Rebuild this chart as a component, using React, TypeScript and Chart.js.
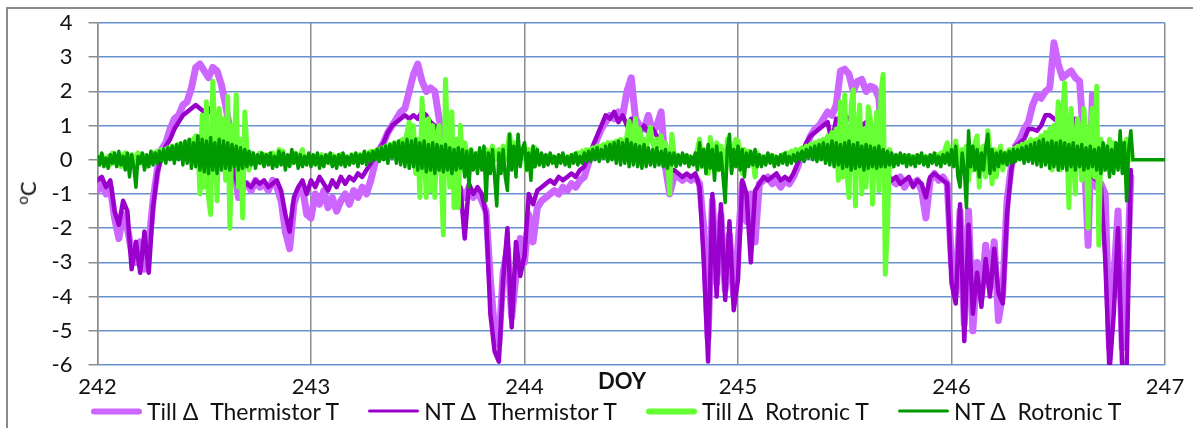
import React, { useEffect, useRef } from "react";
import { Chart, registerables } from "chart.js";

Chart.register(...registerables);

// Sampling grids of the logged differences (day of year)
const doyStart = 242;
const thermistorStep = 0.02; // both thermistor series
const rotronicStep = 0.01; // both Rotronic series

// Axis ticks
const doyTicks = [242, 243, 244, 245, 246, 247];
const tempTicks = [-6, -5, -4, -3, -2, -1, 0, 1, 2, 3, 4];

// Series styling
const seriesLabels = ["Till Δ  Thermistor T", "NT Δ  Thermistor T", "Till Δ  Rotronic T", "NT Δ  Rotronic T"];
const seriesColors = ["#CC66FF", "#9900CC", "#66FF33", "#009900"];
const lineWidths = [7, 4.5, 5, 3.5];
const legendWidths = [6, 3.5, 6, 3.5];

// Till Δ Thermistor T (°C), one row per 0.2 day
const tillThermistor = [
  // 242
  -0.9, -0.7, -1.0, -0.8, -1.7, -2.3, -1.6, -2.0, -2.7, -3.0,
  -2.4, -3.2, -2.5, -1.2, -0.3, 0.3, 0.5, 0.9, 1.2, 1.3,
  1.6, 1.7, 2.1, 2.7, 2.8, 2.6, 2.4, 2.7, 2.6, 2.2,
  1.6, 0.9, -0.2, -1.1, -0.8, -0.7, -0.9, -0.6, -0.8, -0.7,
  -0.9, -0.6, -0.8, -1.2, -2.1, -2.6, -1.3, -0.9, -0.8, -1.6,
  // 243
  -1.7, -1.0, -1.3, -0.9, -1.4, -1.1, -1.5, -1.2, -1.0, -1.3,
  -0.9, -1.1, -0.8, -1.0, -0.6, -0.1, 0.3, 0.5, 0.8, 1.0,
  1.2, 1.4, 1.5, 2.0, 2.5, 2.8, 2.3, 2.0, 2.1, 2.0,
  1.2, 0.6, 0.0, -0.4, -0.7, -0.9, -1.1, -0.8, -1.1, -0.9,
  -1.2, -1.5, -3.5, -5.0, -5.4, -3.3, -2.6, -4.6, -3.4, -2.3,
  // 244
  -3.0, -1.6, -2.4, -1.4, -1.2, -1.1, -1.0, -0.9, -1.0, -0.8,
  -0.9, -0.7, -0.8, -0.6, -0.5, -0.1, 0.3, 0.6, 0.9, 1.1,
  1.3, 1.2, 1.4, 1.3, 2.0, 2.4, 1.2, 1.0, 0.9, 1.3,
  0.8, 1.0, 1.4, -0.2, -1.0, -0.5, -0.5, -0.6, -0.5, -0.6,
  -0.5, -0.7, -2.0, -5.2, -1.2, -3.6, -1.6, -3.8, -2.2, -4.0,
  // 245
  -2.5, -0.7, -1.8, -1.0, -2.4, -0.7, -0.6, -0.5, -0.7, -0.6,
  -0.8, -0.6, -0.7, -0.5, -0.2, 0.2, 0.4, 0.7, 0.9, 1.0,
  1.2, 1.4, 1.3, 1.6, 2.6, 2.65, 2.5, 2.0, 2.3, 2.35,
  2.0, 2.15, 2.1, 1.8, 0.0, -0.5, -0.6, -0.7, -0.5, -0.8,
  -0.6, -0.7, -0.6, -0.9, -1.7, -0.6, -0.4, -0.6, -0.5, -0.7,
  // 246
  -3.0, -3.9, -1.5, -4.8, -1.5, -5.0, -3.0, -4.0, -2.5, -3.7,
  -2.4, -4.7, -3.9, -1.2, -0.2, 0.4, 0.6, 0.9, 1.1, 1.6,
  1.9, 1.8, 2.0, 2.1, 3.42, 2.8, 2.4, 2.5, 2.6, 2.4,
  2.3, 0.5, -2.5, 1.9, -0.8, -0.7, -1.0, -5.5, -3.5, -1.5,
  -5.5, -3.7, -0.5,
];

// NT Δ Thermistor T (°C), one row per 0.2 day
const ntThermistor = [
  // 242
  -0.6, -0.5, -0.8, -0.6, -1.5, -1.9, -1.2, -1.5, -3.2, -2.4,
  -3.3, -2.1, -3.3, -1.4, -0.4, 0.1, 0.4, 0.6, 0.9, 1.1,
  1.3, 1.4, 1.5, 1.6, 1.5, 1.4, 1.5, 1.3, 1.2, 1.0,
  0.8, 0.3, -0.4, -0.8, -0.6, -0.7, -0.8, -0.6, -0.7, -0.6,
  -0.8, -0.7, -0.6, -0.9, -1.6, -2.1, -1.1, -0.8, -0.6, -1.0,
  // 243
  -0.6, -0.8, -0.5, -0.7, -0.9, -0.6, -0.8, -0.5, -0.7, -0.5,
  -0.6, -0.4, -0.5, -0.3, -0.1, 0.1, 0.3, 0.5, 0.8, 1.0,
  1.1, 1.2, 1.3, 1.2, 1.3, 1.2, 1.4, 1.3, 1.1, 1.0,
  0.8, 0.4, -0.2, -0.5, -0.7, -0.8, -2.3, -0.7, -1.0, -0.8,
  -1.0, -1.6, -4.5, -5.6, -5.9, -3.5, -2.0, -4.9, -2.4, -3.4,
  // 244
  -2.8, -1.0, -1.3, -0.9, -0.8, -0.7, -0.6, -0.7, -0.5, -0.6,
  -0.5, -0.4, -0.5, -0.3, -0.2, 0.1, 0.4, 0.7, 1.0, 1.3,
  1.2, 1.4, 1.1, 1.3, 1.0, 1.2, 0.9, 0.8, 1.0, 0.8,
  0.9, 0.7, 0.6, 0.0, -0.4, -0.3, -0.4, -0.5, -0.4, -0.5,
  -0.4, -0.8, -3.0, -5.9, -1.0, -4.0, -1.3, -4.1, -1.8, -4.4,
  // 245
  -3.5, -0.6, -1.0, -3.0, -0.9, -0.7, -0.5, -0.6, -0.5, -0.4,
  -0.6, -0.5, -0.6, -0.4, -0.1, 0.2, 0.5, 0.7, 0.8, 0.9,
  1.0, 1.1, 0.5, 1.2, 1.2, 1.3, 1.2, 1.1, 1.2, 1.0,
  1.1, 0.9, 0.8, 0.6, -0.2, -0.5, -0.6, -0.5, -0.7, -0.6,
  -0.5, -0.8, -0.6, -0.7, -1.1, -0.5, -0.4, -0.5, -0.6, -0.7,
  // 246
  -3.6, -4.2, -1.3, -5.3, -1.9, -4.5, -3.3, -4.3, -2.9, -4.0,
  -2.6, -3.9, -4.2, -1.6, -0.3, 0.4, 0.5, 0.6, 0.9, 0.9,
  0.85, 1.0, 1.3, 1.3, 1.2, 1.1, 1.3, 1.2, 1.0, 1.2,
  0.5, -0.4, -0.5, -0.5, -0.6, -0.8, -2.9, -6.2, -4.5, -2.0,
  -6.2, -6.2, -0.3,
];

// Till Δ Rotronic T (°C), one row per 0.1 day
const tillRotronic = [
  // 242
  0.1, -0.1, 0.15, 0.0, -0.05, 0.1, -0.15, 0.2, -0.1, 0.05,
  0.1, -0.2, 0.15, 0.2, -0.1, 0.1, 0.15, -0.2, 0.1, 0.2,
  -0.1, 0.15, 0.1, -0.2, 0.05, 0.1, 0.2, 0.15, 0.25, 0.2,
  0.3, 0.25, 0.3, 0.35, 0.3, 0.4, 0.35, 0.3, 0.45, 0.4,
  0.35, 0.5, 0.45, 0.55, 0.5, 0.6, 0.7, 0.5, -1.0, 1.3,
  -0.8, 1.7, -1.1, -1.6, 2.3, 0.8, -1.2, 1.5, 0.6, 1.2,
  -0.6, 1.85, -2.0, 1.0, 0.4, 1.9, -0.8, 0.6, -1.7, 1.4,
  0.3, -0.3, 0.2, -0.1, 0.1, 0.0, 0.2, -0.1, 0.15, -0.05,
  0.15, -0.1, 0.2, 0.1, -0.15, 0.3, 0.0, 0.25, -0.1, 0.1,
  0.1, -0.1, 0.2, 0.05, -0.1, 0.15, 0.3, -0.1, 0.1, 0.0,
  // 243
  0.05, -0.1, 0.1, 0.0, -0.05, 0.15, -0.1, 0.05, 0.1, -0.1,
  0.15, 0.0, 0.1, -0.05, 0.15, -0.1, 0.1, 0.05, -0.1, 0.15,
  0.0, 0.1, -0.05, 0.15, 0.1, 0.2, 0.15, 0.2, 0.25, 0.2,
  0.25, 0.3, 0.2, 0.35, 0.3, 0.4, 0.35, 0.45, 0.4, 0.5,
  0.45, 0.4, 0.55, 0.6, 0.5, 0.8, 1.1, 0.6, 1.0, -0.4,
  0.6, -1.1, 1.8, 0.3, -1.1, 1.2, -0.9, 1.0, -1.1, 0.7,
  1.0, -0.5, -2.2, 2.35, 0.5, -0.8, 1.4, -1.4, 0.6, -1.4,
  1.0, -0.3, 0.5, 0.2, -0.2, 0.3, 0.1, -0.1, 0.2, 0.0,
  0.1, -0.2, 0.3, 0.1, 0.2, 0.4, 0.0, 0.2, 0.3, 0.1,
  0.4, 0.0, 0.3, 0.75, 0.2, 0.5, 0.3, 0.4, 0.2, 0.3,
  // 244
  0.4, -0.3, 0.3, 0.1, -0.2, 0.35, -0.1, 0.1, 0.0, 0.1,
  -0.05, 0.1, 0.0, 0.1, -0.05, 0.05, 0.1, 0.0, 0.1, -0.05,
  0.05, 0.1, 0.05, 0.15, 0.1, 0.2, 0.15, 0.25, 0.2, 0.3,
  0.25, 0.3, 0.35, 0.3, 0.4, 0.35, 0.4, 0.45, 0.4, 0.5,
  0.45, 0.5, 0.4, 0.55, 0.5, 0.6, 0.5, 0.4, 0.7, 1.13,
  0.3, 0.8, 1.2, 0.2, 0.9, 0.4, 0.6, 0.3, 0.7, 0.95,
  0.5, 0.3, 0.6, 0.4, 0.7, 0.2, 0.5, 0.1, -1.0, 0.75,
  0.2, 0.0, 0.1, -0.05, 0.05, 0.1, 0.0, 0.1, -0.05, 0.05,
  0.1, 0.3, 0.6, -0.2, 0.3, 0.1, -0.4, 0.65, 0.2, -0.3,
  0.5, -0.3, 0.4, 0.1, -0.5, 0.6, 0.2, -0.3, 0.4, 0.6,
  // 245
  0.55, 0.2, -0.4, 0.3, 0.1, 0.25, -0.1, 0.0, -0.5, 0.2,
  0.0, 0.1, -0.05, 0.1, 0.0, 0.1, -0.05, 0.1, 0.0, 0.05,
  0.1, 0.15, 0.1, 0.2, 0.15, 0.25, 0.2, 0.3, 0.25, 0.3,
  0.35, 0.3, 0.4, 0.35, 0.45, 0.4, 0.5, 0.45, 0.55, 0.5,
  0.6, 0.5, 0.7, 0.4, 0.8, 0.2, 0.9, -0.6, 1.7, -0.5,
  1.9, -0.4, -1.1, 1.6, 2.05, -1.35, 0.8, 1.6, -1.0, 0.9,
  -0.8, 1.55, 1.2, -1.3, 0.5, 1.4, -0.9, 2.0, 2.5, -3.35,
  -2.0, 0.3, -0.2, 0.1, 0.0, 0.1, -0.05, 0.1, 0.0, 0.1,
  -0.05, 0.1, 0.0, 0.1, -0.05, 0.1, 0.05, 0.0, 0.1, 0.05,
  0.0, 0.1, 0.05, 0.15, 0.0, 0.2, 0.1, 0.3, 0.5, 0.3,
  // 246
  0.3, 0.2, 0.55, 0.1, -0.4, 0.3, -0.2, 0.4, -0.6, 0.2,
  -0.3, 0.5, 0.7, -0.8, 0.3, 0.4, -0.5, 0.85, 0.3, -0.7,
  0.3, -0.5, 0.2, 0.4, -0.3, 0.2, 0.15, 0.3, 0.25, 0.3,
  0.35, 0.4, 0.3, 0.45, 0.4, 0.5, 0.45, 0.6, 0.5, 0.55,
  0.6, 0.5, 0.7, 0.4, 0.8, 0.5, 0.9, -0.3, 1.0, 0.4,
  1.7, -0.3, 1.3, 2.25, 0.5, -1.4, 1.5, 0.4, -1.0, 1.2,
  0.8, -0.6, 1.5, 0.6, -2.0, 0.9, 1.5, -0.5, 2.15, -2.5,
  0.6, -0.3, 0.4, -0.2, 0.6, -0.3, 0.5, 0.0, 0.4, -0.2,
  0.5, -0.3, 0.6, 0.2, 0.0,
];

// NT Δ Rotronic T (°C), one row per 0.1 day
const ntRotronic = [
  // 242
  0.1, -0.15, 0.2, -0.2, 0.05, -0.25, 0.15, -0.1, 0.2, -0.2,
  0.25, -0.15, 0.1, -0.3, 0.2, -0.5, 0.15, -0.2, -0.8, 0.1,
  -0.1, 0.2, -0.3, 0.15, -0.2, 0.25, -0.15, 0.2, -0.1, 0.25,
  -0.05, 0.3, -0.1, 0.35, 0.0, 0.4, -0.1, 0.45, 0.0, 0.5,
  -0.15, 0.55, -0.1, 0.6, -0.25, 0.5, -0.2, 0.7, -0.3, 0.6,
  -0.35, 0.55, -0.4, 0.65, -0.3, 0.5, -0.4, 0.6, -0.3, 0.55,
  -0.25, 0.5, -0.3, 0.45, -0.2, 0.4, -0.3, 0.35, -0.25, 0.3,
  -0.2, 0.25, -0.15, 0.2, -0.25, 0.15, -0.1, 0.2, -0.2, 0.15,
  -0.15, 0.2, -0.25, 0.1, -0.2, 0.25, -0.15, 0.2, -0.3, 0.15,
  -0.2, 0.3, -0.1, 0.2, -0.25, 0.15, -0.2, 0.1, -0.15, 0.2,
  // 243
  -0.2, 0.15, -0.15, 0.2, -0.25, 0.1, -0.2, 0.15, -0.1, 0.2,
  -0.2, 0.1, -0.25, 0.15, -0.15, 0.2, -0.2, 0.1, -0.15, 0.15,
  -0.1, 0.2, -0.2, 0.15, -0.1, 0.25, -0.15, 0.2, -0.05, 0.25,
  0.0, 0.3, -0.05, 0.35, 0.0, 0.4, -0.1, 0.45, 0.05, 0.5,
  -0.1, 0.55, -0.15, 0.5, -0.2, 0.6, -0.25, 0.55, -0.2, 0.6,
  -0.3, 0.5, -0.25, 0.55, -0.35, 0.45, -0.3, 0.5, -0.4, 0.45,
  -0.3, 0.4, -0.35, 0.45, -0.3, 0.35, -0.4, 0.3, -0.3, 0.35,
  -0.25, 0.3, -0.5, 0.25, -0.8, 0.3, -0.3, 0.2, -0.4, 0.35,
  -0.3, 0.4, -1.2, 0.2, -0.4, 0.3, -0.5, -1.35, 0.2, -0.4,
  0.3, -0.5, -0.9, 0.75, -0.3, 0.4, -0.5, 0.75, -0.2, 0.3,
  // 244
  0.5, -0.3, 0.2, -0.6, 0.4, -0.2, 0.3, -0.15, 0.2, -0.2,
  0.15, -0.15, 0.2, -0.1, 0.1, -0.2, 0.15, -0.1, 0.2, -0.15,
  0.1, -0.2, 0.15, -0.1, 0.2, -0.15, 0.1, -0.1, 0.2, -0.05,
  0.25, -0.05, 0.3, 0.0, 0.35, -0.05, 0.3, 0.05, 0.4, -0.05,
  0.45, 0.0, 0.5, -0.1, 0.55, -0.15, 0.5, -0.1, 0.6, -0.2,
  0.5, -0.15, 0.45, -0.2, 0.4, -0.25, 0.45, -0.2, 0.35, -0.15,
  0.3, -0.2, 0.35, -0.15, 0.25, -0.2, 0.3, -0.25, 0.2, -0.15,
  0.2, -0.2, 0.15, -0.15, 0.2, -0.1, 0.15, -0.2, 0.1, -0.15,
  0.2, -0.3, 0.5, -0.2, 0.3, -0.4, 0.45, -0.25, 0.3, -0.6,
  0.4, -0.3, 0.2, -0.5, -1.25, 0.3, 0.75, -0.4, 0.3, -0.2,
  // 245
  0.4, -0.3, 0.3, -0.5, 0.2, -0.2, 0.25, -0.15, 0.3, -0.2,
  0.15, -0.2, 0.1, -0.15, 0.2, -0.1, 0.15, -0.2, 0.1, -0.15,
  0.15, -0.1, 0.2, -0.15, 0.1, -0.1, 0.15, -0.05, 0.2, 0.0,
  0.25, -0.05, 0.3, 0.05, 0.35, 0.0, 0.4, -0.05, 0.45, 0.0,
  0.5, -0.1, 0.45, -0.15, 0.55, -0.2, 0.5, -0.15, 0.45, -0.25,
  0.5, -0.2, 0.55, -0.3, 0.45, -0.25, 0.5, -0.2, 0.4, -0.3,
  0.45, -0.25, 0.4, -0.2, 0.35, -0.25, 0.4, -0.2, 0.3, -0.2,
  0.25, -0.15, 0.2, -0.2, 0.15, -0.15, 0.2, -0.1, 0.15, -0.2,
  0.15, -0.15, 0.1, -0.2, 0.15, -0.1, 0.2, -0.15, 0.1, -0.2,
  0.15, -0.1, 0.2, -0.15, 0.1, -0.2, 0.15, -0.1, 0.2, -0.15,
  // 246
  0.3, -0.2, 0.4, -0.5, -0.8, 0.2, -0.3, -1.4, 0.85, -0.2,
  0.4, -0.3, 0.3, -0.5, 0.2, -0.3, 0.35, 0.75, -0.4, 0.3,
  -0.3, 0.2, -0.2, 0.25, -0.1, 0.2, -0.15, 0.25, -0.1, 0.3,
  -0.05, 0.3, 0.0, 0.35, -0.1, 0.4, -0.05, 0.45, -0.1, 0.5,
  -0.15, 0.55, -0.2, 0.6, -0.15, 0.5, -0.25, 0.55, -0.2, 0.5,
  -0.3, 0.55, -0.25, 0.5, -0.3, 0.45, -0.2, 0.5, -0.3, 0.4,
  -0.2, 0.45, -0.3, 0.35, -0.25, 0.4, -0.2, 0.3, -0.3, 0.35,
  -0.4, 0.5, -0.3, 0.4, -0.5, 0.3, -0.4, 0.5, -0.3, 0.85,
  -0.4, 0.5, -1.2, 0.3, 0.85, 0, 0, 0, 0, 0,
  0, 0, 0, 0, 0, 0, 0, 0, 0, 0,
  // 247
  0,
];

const seriesValues = [tillThermistor, ntThermistor, tillRotronic, ntRotronic];
const seriesSteps = [thermistorStep, thermistorStep, rotronicStep, rotronicStep];

const FONT = "Lato, 'Liberation Sans', sans-serif";
const GRID_BLUE = "rgb(104,146,206)";
const GRID_GRAY = "rgb(140,140,140)";

function toPoints(values: number[], step: number) {
  return values.map((y, i) => ({ x: Number((doyStart + i * step).toFixed(2)), y }));
}

// Keep the plot frame fixed: tick labels may overhang into the page margins
function dropLabelPadding(scale: any) {
  scale.paddingTop = 0;
  scale.paddingBottom = 0;
  scale.paddingLeft = 0;
  scale.paddingRight = 0;
}

export default function App() {
  const canvasRef = useRef<HTMLCanvasElement | null>(null);

  useEffect(() => {
    const canvas = canvasRef.current;
    if (!canvas) return;
    const chart = new Chart(canvas, {
      type: "line",
      data: {
        datasets: seriesValues.map((values, i) => ({
          label: seriesLabels[i],
          data: toPoints(values, seriesSteps[i]),
          borderColor: seriesColors[i],
          backgroundColor: seriesColors[i],
          borderWidth: lineWidths[i],
          pointRadius: 0,
          tension: 0,
          fill: false,
          clip: 0,
          borderCapStyle: "round",
          borderJoinStyle: "round",
          order: seriesValues.length - i,
        })),
      },
      options: {
        animation: false,
        responsive: false,
        events: [],
        layout: { padding: { top: 23, right: 28, left: 0, bottom: 0 } },
        plugins: {
          legend: { display: false },
          tooltip: { enabled: false },
        },
        scales: {
          x: {
            type: "linear",
            min: doyTicks[0],
            max: doyTicks[doyTicks.length - 1],
            afterBuildTicks: (scale: any) => {
              scale.ticks = doyTicks.map((v) => ({ value: v }));
            },
            afterFit: (scale: any) => {
              scale.height = 63;
              dropLabelPadding(scale);
            },
            grid: { color: GRID_GRAY, lineWidth: 1.5, drawTicks: false },
            border: { display: false },
            ticks: {
              padding: 9,
              color: "#111",
              maxRotation: 0,
              autoSkip: false,
              font: { family: FONT, size: 22 },
              callback: (v: any) => String(v),
            },
          },
          y: {
            type: "linear",
            min: tempTicks[0],
            max: tempTicks[tempTicks.length - 1],
            afterBuildTicks: (scale: any) => {
              scale.ticks = tempTicks.map((v) => ({ value: v }));
            },
            afterFit: (scale: any) => {
              scale.width = 97.5;
              dropLabelPadding(scale);
            },
            grid: { color: GRID_BLUE, lineWidth: 1.5, tickColor: GRID_GRAY, tickLength: 9 },
            border: { color: GRID_GRAY, width: 1.5 },
            ticks: {
              padding: 16,
              color: "#111",
              autoSkip: false,
              font: { family: FONT, size: 22 },
              callback: (v: any) => String(v),
            },
          },
        },
      },
    } as any);
    return () => chart.destroy();
  }, []);

  return (
    <div>
      <div
        style={{
          position: "absolute",
          left: 6,
          top: 7,
          width: 1187,
          height: 421,
          borderLeft: "2px solid #8a8a8a",
          borderTop: "2px solid #8a8a8a",
          boxSizing: "border-box",
        }}
      />
      <canvas
        ref={canvasRef}
        width={1193}
        height={428}
        style={{ position: "absolute", left: 0, top: 0, width: 1193, height: 428 }}
      />
      <div
        style={{
          position: "absolute",
          left: 27,
          top: 193,
          transform: "translate(-50%, -50%) rotate(-90deg)",
          fontFamily: FONT,
          fontSize: 22,
          lineHeight: 1,
          color: "#111",
          whiteSpace: "nowrap",
        }}
      >
        <sup style={{ fontSize: 15 }}>o</sup>C
      </div>
      <div
        style={{
          position: "absolute",
          left: 622,
          top: 381,
          transform: "translate(-50%, -50%)",
          fontFamily: FONT,
          fontSize: 22,
          fontWeight: "bold",
          lineHeight: 1,
          color: "#111",
        }}
      >
        DOY
      </div>
      <div
        style={{
          position: "absolute",
          left: 91,
          top: 411,
          transform: "translateY(-50%)",
          display: "flex",
          alignItems: "center",
          gap: 29,
          fontFamily: FONT,
          fontSize: 23,
          lineHeight: 1,
          color: "#111",
          whiteSpace: "pre",
        }}
      >
        {seriesLabels.map((label, i) => (
          <div key={label} style={{ display: "flex", alignItems: "center" }}>
            <span
              style={{
                display: "inline-block",
                width: 51,
                height: legendWidths[i],
                borderRadius: legendWidths[i] / 2,
                background: seriesColors[i],
                marginRight: 5,
              }}
            />
            <span>{label}</span>
          </div>
        ))}
      </div>
    </div>
  );
}
